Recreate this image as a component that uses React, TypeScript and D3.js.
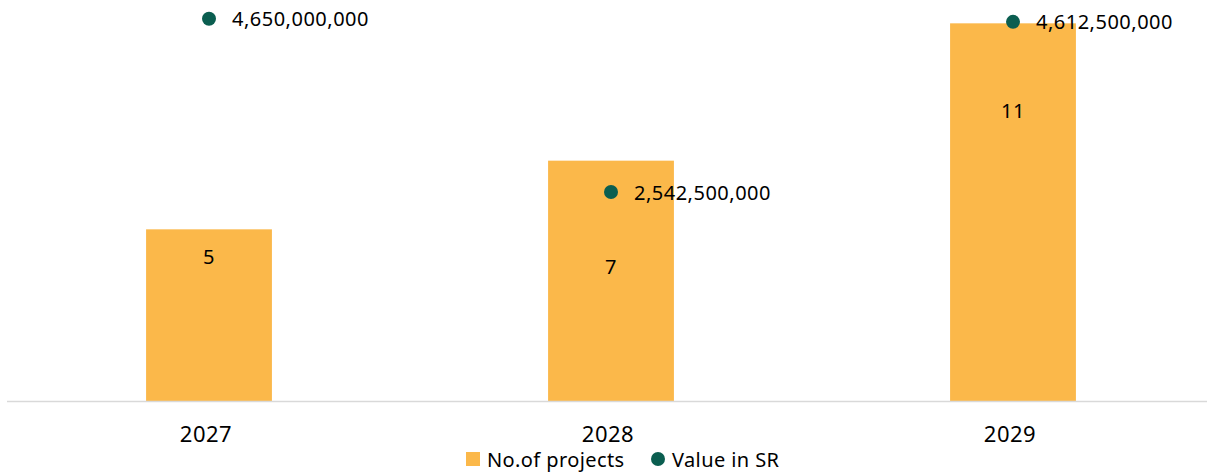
import React from "react";
import * as d3 from "d3";

const years = ["2027", "2028", "2029"];
const projects = [5, 7, 11];
const valueSR = [4650000000, 2542500000, 4612500000];
const projectLabelAt = [4.22, 3.93, 8.45];
const legendLabels = ["No.of projects", "Value in SR"];

const W = 1207;
const H = 472;
const BAR = "#FBB84A";
const DOT = "#0B5E50";
const FONT = "'Noto Sans', sans-serif";

export default function App() {
  const x = d3.scaleBand<string>().domain(years).range([8, 1214]).paddingInner(0.687).paddingOuter(0.3435);
  const y = d3.scaleLinear().domain([0, 12]).range([401, -11]);
  const y2 = d3.scaleLinear().domain([0, 5e9]).range([401, -10]);
  const fmt = d3.format(",");
  const cx = (d: string) => (x(d) as number) + x.bandwidth() / 2;

  return (
    <svg width={W} height={H} style={{ position: "absolute", left: 0, top: 0, background: "#fff" }} fontFamily={FONT}>
      {years.map((yr, i) => (
        <rect key={yr} x={x(yr)} y={y(projects[i])} width={x.bandwidth()} height={y(0) - y(projects[i])} fill={BAR} />
      ))}
      <line x1={7} x2={W} y1={y(0) + 0.5} y2={y(0) + 0.5} stroke="#d9d9d9" strokeWidth={1.5} />
      {years.map((yr, i) => (
        <text key={"pl" + yr} x={cx(yr)} y={y(projectLabelAt[i])} textAnchor="middle" dominantBaseline="central" fontSize={20} letterSpacing={0.5} fill="#000">
          {projects[i]}
        </text>
      ))}
      {years.map((yr, i) => (
        <g key={"d" + yr}>
          <circle cx={cx(yr)} cy={y2(valueSR[i])} r={7} fill={DOT} />
          <text x={cx(yr) + 23} y={y2(valueSR[i])} dominantBaseline="central" fontSize={20} letterSpacing={0.5} fill="#000">
            {fmt(valueSR[i])}
          </text>
        </g>
      ))}
      {years.map((yr) => (
        <text key={"t" + yr} x={cx(yr) - 3} y={433} textAnchor="middle" dominantBaseline="central" fontSize={22} letterSpacing={0.5} fill="#000">
          {yr}
        </text>
      ))}
      <g>
        <rect x={466} y={452} width={14} height={14} fill={BAR} />
        <text x={487} y={459} dominantBaseline="central" fontSize={20} letterSpacing={0.4} fill="#000">
          {legendLabels[0]}
        </text>
        <circle cx={658} cy={459} r={7} fill={DOT} />
        <text x={672} y={459} dominantBaseline="central" fontSize={20} letterSpacing={0.4} fill="#000">
          {legendLabels[1]}
        </text>
      </g>
    </svg>
  );
}
